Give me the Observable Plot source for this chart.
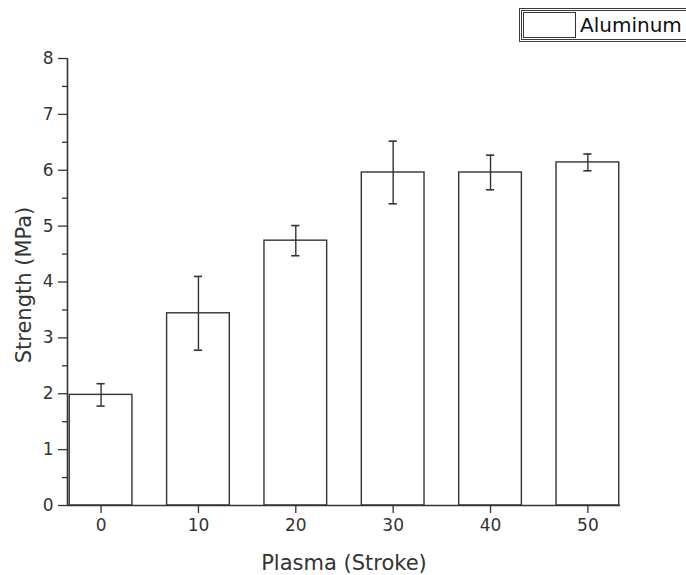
<!DOCTYPE html>
<html>
<head>
<meta charset="utf-8">
<script src="https://cdn.jsdelivr.net/npm/d3@7"></script>
<script src="https://cdn.jsdelivr.net/npm/@observablehq/plot@0.6"></script>
<style>
  html, body { margin: 0; padding: 0; background: #fff; overflow: hidden; }
  #wrap { position: relative; width: 686px; height: 575px; overflow: hidden; }
  .legend {
    position: absolute; left: 519px; top: 8px; width: 200px; height: 28px;
    border: 3px double #3a3a3a; background: #fff;
    font: 20px "DejaVu Sans", sans-serif; color: #111;
  }
  .legend .swatch {
    position: absolute; left: 1px; top: 1px; width: 51px; height: 24px;
    border: 1px solid #333; background: #fff;
  }
  .legend .name { position: absolute; left: 58px; top: 1px; line-height: 26px; white-space: nowrap; }
</style>
</head>
<body>
<div id="wrap"></div>
<script>
// Plasma treatment strokes and the measured strength of the aluminium joint
const strokes = [0, 10, 20, 30, 40, 50];
const strength = [1.98, 3.44, 4.74, 5.96, 5.96, 6.14];
const stdev = [0.20, 0.66, 0.27, 0.56, 0.31, 0.15];
const yTicks = [0, 1, 2, 3, 4, 5, 6, 7, 8];
const yMinorTicks = [0.5, 1.5, 2.5, 3.5, 4.5, 5.5, 6.5, 7.5];
const seriesName = "Aluminum";
const xTitle = "Plasma (Stroke)";
const yTitle = "Strength (MPa)";

const rows = strokes.map((s, i) => ({x: s, y: strength[i], e: stdev[i]}));

const xDomain = [-3.45, 53.35];
const halfBar = 3.22;   // half bar width, in strokes
const halfCap = 0.42;   // half error-cap width, in strokes
const ink = "#333";

const chart = Plot.plot({
  width: 686,
  height: 575,
  marginLeft: 67,
  marginRight: 66,
  marginTop: 58,
  marginBottom: 70,
  style: {fontFamily: "'DejaVu Sans', sans-serif", fontSize: "17px", color: ink, background: "white"},
  x: {domain: xDomain},
  y: {domain: [0, 8]},
  marks: [
    Plot.rectY(rows, {x1: d => d.x - halfBar, x2: d => d.x + halfBar, y1: 0, y2: "y",
      fill: "white", stroke: ink, strokeWidth: 1.4}),
    Plot.ruleX(rows, {x: "x", y1: d => d.y - d.e, y2: d => d.y + d.e, stroke: ink, strokeWidth: 1.4}),
    Plot.ruleY(rows, {y: d => d.y + d.e, x1: d => d.x - halfCap, x2: d => d.x + halfCap, stroke: ink, strokeWidth: 1.6}),
    Plot.ruleY(rows, {y: d => d.y - d.e, x1: d => d.x - halfCap, x2: d => d.x + halfCap, stroke: ink, strokeWidth: 1.6}),
    Plot.axisY({ticks: yTicks, tickSize: 9, tickPadding: 5, label: null, tickFormat: d => d, fontSize: 17, strokeWidth: 1.3}),
    Plot.axisY({ticks: yMinorTicks, tickSize: 5, text: null, label: null, strokeWidth: 1.3}),
    Plot.axisX({ticks: strokes, tickSize: 8, tickPadding: 5, label: null, tickFormat: d => d, fontSize: 17, strokeWidth: 1.3}),
    Plot.ruleX([xDomain[0]], {y1: 0, y2: 8, stroke: ink, strokeWidth: 1.6}),
    Plot.ruleY([0], {stroke: ink, strokeWidth: 1.6}),
    Plot.text([xTitle], {frameAnchor: "bottom", dy: 58, lineAnchor: "middle", fontSize: 21, text: d => d}),
    Plot.text([yTitle], {frameAnchor: "left", rotate: -90, dx: -43, dy: 3, textAnchor: "middle", fontSize: 21, text: d => d})
  ]
});

const wrap = document.getElementById("wrap");
wrap.appendChild(chart);

const legend = document.createElement("div");
legend.className = "legend";
legend.innerHTML = '<div class="swatch"></div><div class="name"></div>';
legend.querySelector(".name").textContent = seriesName;
wrap.appendChild(legend);
</script>
</body>
</html>
